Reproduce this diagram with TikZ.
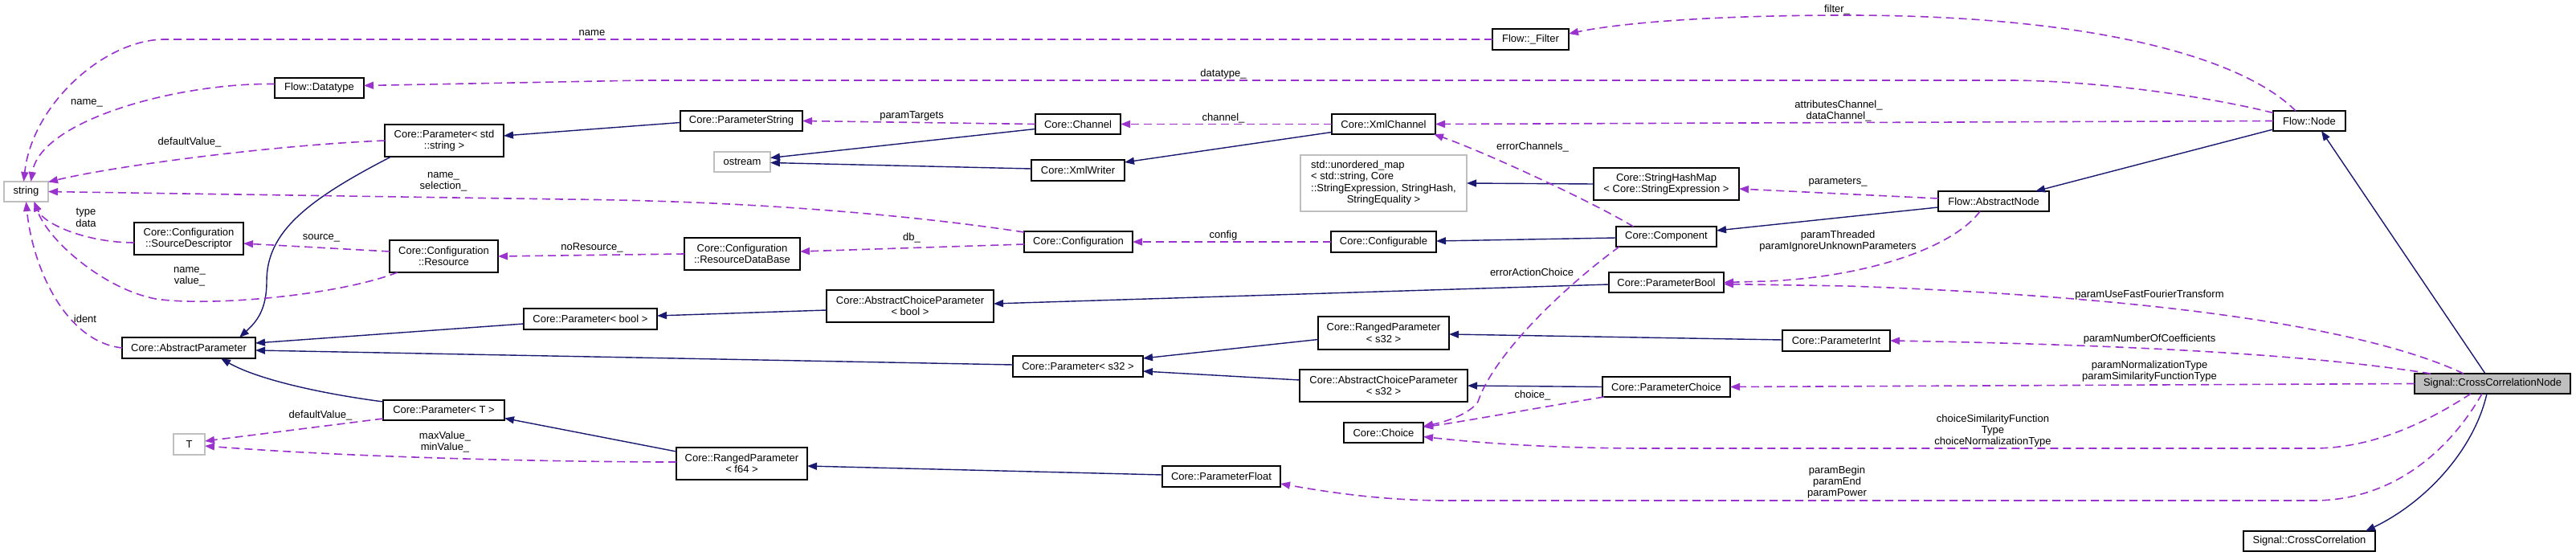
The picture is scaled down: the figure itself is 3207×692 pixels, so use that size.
\documentclass[tikz,border=0pt]{standalone}
\usepackage{fontspec}
\setmainfont{Liberation Sans}
\usetikzlibrary{arrows.meta,calc}
\definecolor{usec}{HTML}{9A32CD}
\definecolor{inhc}{HTML}{191970}
\definecolor{undocgray}{HTML}{BFBFBF}
\newcommand\dfont{\fontsize{13}{14.3}\selectfont}
\tikzset{
 cbox/.style={rectangle, draw=black, line width=1.3pt, fill=white, inner sep=0pt, outer sep=0pt, font=\dfont, align=center},
 gbox/.style={cbox, draw=undocgray},
 lbl/.style={font=\dfont, inner sep=0pt, align=center},
 inh/.style={draw=inhc, line width=1.4pt, -{Triangle[length=12pt,width=9pt]}},
 usedge/.style={draw=usec, line width=1.6pt, dash pattern=on 10pt off 6pt, -{Triangle[length=12pt,width=9pt]}},
}
\begin{document}
\begin{tikzpicture}[x=1pt,y=-1pt]
\useasboundingbox (0,0) rectangle (3207,692);
% nodes
\node[gbox, minimum width=55pt, minimum height=25pt] (string) at (32.5,238.5) {string};
\node[cbox, minimum width=111pt, minimum height=25pt] (datatype) at (397.5,109.5) {Flow::Datatype};
\node[cbox, minimum width=148pt, minimum height=40pt] (pstdstring) at (553,175) {Core::Parameter< std\\::string >};
\node[cbox, minimum width=136pt, minimum height=40pt] (srcdesc) at (235,297) {Core::Configuration\\::SourceDescriptor};
\node[cbox, minimum width=135pt, minimum height=40pt] (resource) at (552.5,319) {Core::Configuration\\::Resource};
\node[cbox, minimum width=166pt, minimum height=26pt] (absparam) at (235,433) {Core::AbstractParameter};
\node[cbox, minimum width=166pt, minimum height=26pt] (pbool) at (735,397) {Core::Parameter< bool >};
\node[cbox, minimum width=151pt, minimum height=25pt] (pT) at (552.5,510.5) {Core::Parameter< T >};
\node[gbox, minimum width=39pt, minimum height=26pt] (T) at (235.5,553) {T};
\node[cbox, minimum width=152pt, minimum height=25pt] (pstring) at (923,150.5) {Core::ParameterString};
\node[cbox, minimum width=106pt, minimum height=25pt] (channel) at (1342,154.5) {Core::Channel};
\node[gbox, minimum width=70pt, minimum height=25pt] (ostream) at (924,201.5) {ostream};
\node[cbox, minimum width=116pt, minimum height=26pt] (xmlwriter) at (1342,212) {Core::XmlWriter};
\node[cbox, minimum width=135pt, minimum height=26pt] (configuration) at (1342.5,301) {Core::Configuration};
\node[cbox, minimum width=144pt, minimum height=40pt] (resdb) at (924,316) {Core::Configuration\\::ResourceDataBase};
\node[cbox, minimum width=208pt, minimum height=40pt] (acpbool) at (1133,381) {Core::AbstractChoiceParameter\\< bool >};
\node[cbox, minimum width=162pt, minimum height=26pt] (ps32) at (1342,456) {Core::Parameter< s32 >};
\node[cbox, minimum width=163pt, minimum height=40pt] (rpf64) at (923.5,577) {Core::RangedParameter\\< f64 >};
\node[cbox, minimum width=147pt, minimum height=26pt] (pfloat) at (1520.5,593) {Core::ParameterFloat};
\node[cbox, minimum width=95pt, minimum height=26pt] (filter) at (1905.5,49) {Flow::\_Filter};
\node[cbox, minimum width=129pt, minimum height=25pt] (xmlchannel) at (1722.5,154.5) {Core::XmlChannel};
\node[gbox, minimum width=207pt, minimum height=70pt] (umap) at (1722.5,228) {\begin{tabular}{@{}l@{}}std::unordered\_map\\< std::string, Core\\::StringExpression, StringHash,\\\multicolumn{1}{@{}c@{}}{StringEquality >}\end{tabular}};
\node[cbox, minimum width=181pt, minimum height=40pt] (strhashmap) at (2074.5,229) {Core::StringHashMap\\< Core::StringExpression >};
\node[cbox, minimum width=131pt, minimum height=26pt] (configurable) at (1722.5,301) {Core::Configurable};
\node[cbox, minimum width=125pt, minimum height=25pt] (component) at (2074.5,294.5) {Core::Component};
\node[cbox, minimum width=143pt, minimum height=25pt] (pboolp) at (2074.5,351.5) {Core::ParameterBool};
\node[cbox, minimum width=163pt, minimum height=41pt] (rps32) at (1722.5,414.5) {Core::RangedParameter\\< s32 >};
\node[cbox, minimum width=209pt, minimum height=40pt] (acps32) at (1722.5,480) {Core::AbstractChoiceParameter\\< s32 >};
\node[cbox, minimum width=159pt, minimum height=25pt] (pchoice) at (2074.5,481.5) {Core::ParameterChoice};
\node[cbox, minimum width=99pt, minimum height=25pt] (choice) at (1722.5,538.5) {Core::Choice};
\node[cbox, minimum width=134pt, minimum height=26pt] (pint) at (2286,424) {Core::ParameterInt};
\node[cbox, minimum width=138pt, minimum height=25pt] (absnode) at (2482,250.5) {Flow::AbstractNode};
\node[cbox, minimum width=90pt, minimum height=25pt] (flownode) at (2875,150.5) {Flow::Node};
\node[cbox, fill=undocgray, minimum width=194pt, minimum height=25pt] (ccnode) at (3103,477.5) {Signal::CrossCorrelationNode};
\node[cbox, minimum width=164pt, minimum height=25pt] (cc) at (2875,673.5) {Signal::CrossCorrelation};

% inheritance edges
\draw[inh] ($(pstdstring.south west)+(8,0)$) .. controls (380,250) and (332,290) .. (332,350) .. controls (332,385) and (320,400) .. ($(absparam.north)+(63,0)$);
\draw[inh] ($(pstring.west)+(0,2)$) -- ($(pstdstring.east)+(0,-6)$);
\draw[inh] ($(channel.west)+(0,6)$) -- ($(ostream.east)+(0,-5)$);
\draw[inh] ($(xmlwriter.west)+(0,-2)$) -- ($(ostream.east)+(0,1)$);
\draw[inh] ($(xmlchannel.west)+(0,10)$) -- ($(xmlwriter.east)+(0,-10)$);
\draw[inh] ($(pbool.west)+(0,6)$) -- ($(absparam.east)+(0,-6)$);
\draw[inh] ($(ps32.west)+(0,-2)$) -- ($(absparam.east)+(0,3)$);
\draw[inh] ($(pT.north west)+(0,2)$) .. controls (400,490) and (320,472) .. ($(absparam.south)+(40,0)$);
\draw[inh] ($(rpf64.north west)+(0,5)$) -- ($(pT.east)+(0,10)$);
\draw[inh] ($(acpbool.west)+(0,5)$) -- ($(pbool.east)+(0,-4)$);
\draw[inh] ($(pfloat.west)+(0,-2)$) -- ($(rpf64.east)+(0,3)$);
\draw[inh] ($(rps32.west)+(0,8)$) -- ($(ps32.east)+(0,-10)$);
\draw[inh] ($(acps32.west)+(0,-7)$) -- ($(ps32.east)+(0,6)$);
\draw[inh] (strhashmap.west) -- (umap.east);
\draw[inh] ($(component.west)+(0,1.5)$) -- ($(configurable.east)+(0,-1)$);
\draw[inh] ($(absnode.west)+(0,7.5)$) -- ($(component.east)+(0,-7.5)$);
\draw[inh] ($(flownode.south west)+(0,-2)$) -- ($(absnode.north east)+(-17,0)$);
\draw[inh] ($(pboolp.west)+(0,2.5)$) -- ($(acpbool.east)+(0,-3)$);
\draw[inh] ($(pint.west)+(0,-1)$) -- ($(rps32.east)+(0,1.5)$);
\draw[inh] (pchoice.west) -- (acps32.east);
\draw[inh] ($(ccnode.north)+(-9,0)$) -- ($(flownode.south)+(15,0)$);
\draw[inh] ($(ccnode.south)+(-7,0)$) .. controls (3080,560) and (3020,625) .. ($(cc.north east)+(-12,0)$);

% usage edges
\draw[usedge] (filter.west) -- (205,49) .. controls (130,49) and (40,130) .. ($(string.north)+(-3,0)$);
\node[lbl] (l1) at (737,41) {name};
\draw[usedge] ($(datatype.west)+(0,-5)$) .. controls (220,103) and (50,150) .. ($(string.north)+(6,0)$);
\node[lbl] (l2) at (108,128) {name\_};
\draw[usedge] ($(flownode.west)+(0,-10)$) .. controls (2740,118) and (2600,100) .. (2500,100) -- (800,100) -- ($(datatype.east)+(0,-3)$);
\node[lbl] (l3) at (1523,92) {datatype\_};
\draw[usedge] ($(flownode.north)+(-17,0)$) .. controls (2790,70) and (2600,19) .. (2300,19) .. controls (2100,19) and (2000,32) .. ($(filter.east)+(0,-7)$);
\node[lbl] (l4) at (2287,12) {filter\_};
\draw[usedge] (pstdstring.west) .. controls (350,180) and (150,205) .. ($(string.east)+(0,-12)$);
\node[lbl] (l5) at (236,177) {defaultValue\_};
\draw[usedge] ($(configuration.north west)+(0,1)$) .. controls (1150,270) and (950,250) .. (700,248) -- (string.east);
\node[lbl] (l6) at (552,226) {name\_\\selection\_};
\draw[usedge] ($(srcdesc.west)+(0,5)$) .. controls (110,302) and (55,280) .. ($(string.south)+(10,0)$);
\node[lbl] (l7) at (107,271) {type\\data};
\draw[usedge] ($(resource.west)+(0,-6)$) -- ($(srcdesc.east)+(0,6)$);
\node[lbl] (l8) at (400,296) {source\_};
\draw[usedge] ($(resource.south west)+(10,0)$) .. controls (420,368) and (260,382) .. (194,372) .. controls (130,360) and (60,300) .. ($(string.south)+(10,0)$);
\node[lbl] (l9) at (236,344) {name\_\\value\_};
\draw[usedge] (absparam.west) .. controls (80,425) and (40,330) .. (string.south);
\node[lbl] (l10) at (106,397) {ident};
\draw[usedge] ($(pT.south west)+(0,-2)$) -- ($(T.east)+(0,-4)$);
\node[lbl] (l11) at (399,517) {defaultValue\_};
\draw[usedge] ($(rpf64.west)+(0,-2)$) .. controls (700,575) and (450,570) .. ($(T.east)+(0,2)$);
\node[lbl] (l12) at (554,550) {maxValue\_\\minValue\_};
\draw[usedge] (channel.west) -- (pstring.east);
\node[lbl] (l13) at (1135,144) {paramTargets};
\draw[usedge] (xmlchannel.west) -- (channel.east);
\node[lbl] (l14) at (1523,147) {channel\_};
\draw[usedge] (resdb.west) -- (resource.east);
\node[lbl] (l15) at (737,308) {noResource\_};
\draw[usedge] ($(configuration.west)+(0,3)$) -- ($(resdb.east)+(0,-3)$);
\node[lbl] (l16) at (1135,296) {db\_};
\draw[usedge] (configurable.west) -- (configuration.east);
\node[lbl] (l17) at (1523,293) {config};
\draw[usedge] (flownode.west) -- (xmlchannel.east);
\node[lbl] (l18) at (2289,138) {attributesChannel\_\\dataChannel\_};
\draw[usedge] ($(component.north)+(-41,0)$) .. controls (1980,250) and (1850,190) .. ($(xmlchannel.south east)+(-2,0)$);
\node[lbl] (l19) at (1908,183) {errorChannels\_};
\draw[usedge] ($(absnode.west)+(0,-3.5)$) -- ($(strhashmap.east)+(0,6)$);
\node[lbl] (l20) at (2288,227) {parameters\_};
\draw[usedge] ($(component.south west)+(4,0)$) .. controls (1950,355) and (1860,440) .. (1840,500) .. controls (1830,515) and (1800,525) .. ($(choice.east)+(0,-8)$);
\node[lbl] (l21) at (1907,339) {errorActionChoice};
\draw[usedge] ($(pchoice.south west)+(2,0)$) .. controls (1900,510) and (1820,525) .. ($(choice.east)+(0,-7)$);
\node[lbl] (l22) at (1908,492) {choice\_};
\draw[usedge] ($(absnode.south)+(-17,0)$) .. controls (2430,310) and (2320,345) .. (2200,350) -- ($(pboolp.east)+(0,0)$);
\node[lbl] (l23) at (2288,300) {paramThreaded\\paramIgnoreUnknownParameters};
\draw[usedge] ($(ccnode.north)+(-36,0)$) .. controls (2950,410) and (2700,370) .. (2300,356) -- ($(pboolp.east)+(0,2)$);
\node[lbl] (l24) at (2676,367) {paramUseFastFourierTransform};
\draw[usedge] ($(ccnode.north west)+(20,0)$) .. controls (2900,445) and (2700,430) .. (pint.east);
\node[lbl] (l25) at (2676,422) {paramNumberOfCoefficients};
\draw[usedge] (ccnode.west) -- (pchoice.east);
\node[lbl] (l26) at (2676,462) {paramNormalizationType\\paramSimilarityFunctionType};
\draw[usedge] ($(ccnode.south)+(-27,0)$) .. controls (3030,520) and (2960,558) .. (2880,558) -- (2050,558) .. controls (1920,558) and (1830,550) .. ($(choice.east)+(0,5)$);
\node[lbl] (l27) at (2481,536) {choiceSimilarityFunction\\Type\\choiceNormalizationType};
\draw[usedge] ($(ccnode.south)+(-13,0)$) .. controls (3050,560) and (2980,623) .. (2880,623) -- (1800,623) .. controls (1720,623) and (1650,612) .. ($(pfloat.east)+(0,9)$);
\node[lbl] (l28) at (2287,600) {paramBegin\\paramEnd\\paramPower};
\end{tikzpicture}
\end{document}
